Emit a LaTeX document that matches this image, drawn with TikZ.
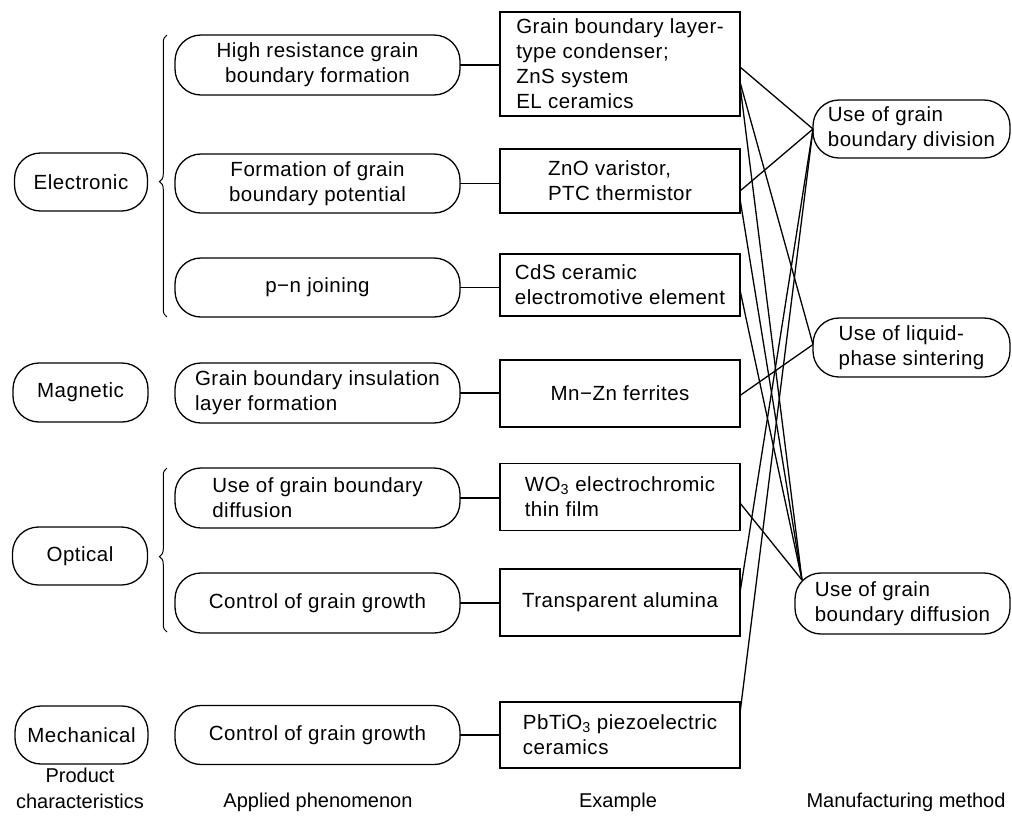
\documentclass[tikz,border=0pt]{standalone}
\usepackage{fontspec}
\setmainfont{Liberation Sans}[LetterSpace=2.5]
\newfontfamily\lblfont{Liberation Sans}
\usetikzlibrary{calc,decorations.pathreplacing}
\begin{document}
\begin{tikzpicture}[x=1pt,y=-1pt,
  every node/.style={inner sep=0pt, outer sep=0pt},
  txt/.style={font=\fontsize{20.5}{25}\selectfont},
  pill/.style={draw, line width=1.3pt, rounded corners=26pt, txt, align=center},
  pillL/.style={pill, align=left},
  exbox/.style={draw, line width=1.3pt, txt, align=left, minimum width=240pt},
  lbl/.style={font=\lblfont\fontsize{20}{26}\selectfont, align=center},
  conn/.style={line width=1.3pt},
  bracestyle/.style={line width=1pt, decorate, decoration={brace, amplitude=7.5pt}},
  ]
\useasboundingbox (0,0) rectangle (1012,815);

% Product characteristics
\node[pill, minimum width=133pt, minimum height=58pt] (pe) at (81,182) {Electronic};
\node[pill, minimum width=135pt, minimum height=59pt] (pm) at (80.5,392.5) {Magnetic};
\node[pill, minimum width=135pt, minimum height=58pt] (po) at (80,556) {Optical};
\node[pill, minimum width=133pt, minimum height=58pt] (pk) at (81.5,735) {Mechanical};

% braces
\draw[bracestyle, decoration={aspect=0.48}] (167,317) -- (167,35);
\draw[bracestyle, decoration={aspect=0.46}] (167,632) -- (167,468);

% Applied phenomenon
\node[pill, minimum width=285pt, minimum height=60pt] (a1) at (317.5,65) {High resistance grain\\boundary formation};
\node[pill, minimum width=285pt, minimum height=59pt] (a2) at (317.5,183.5) {Formation of grain\\boundary potential};
\node[pill, minimum width=285pt, minimum height=59pt] (a3) at (317.5,287.5) {p−n joining};
\node[pillL, minimum width=285pt, minimum height=60pt] (a4) at (317.5,393) {Grain boundary insulation\\layer formation};
\node[pillL, minimum width=285pt, minimum height=60pt] (a5) at (317.5,498) {Use of grain boundary\\diffusion};
\node[pill, minimum width=285pt, minimum height=60pt] (a6) at (317.5,603) {Control of grain growth};
\node[pill, minimum width=285pt, minimum height=59pt] (a7) at (317.5,735) {Control of grain growth};

% Examples
\node[exbox, minimum height=104pt] (e1) at (620,64) {Grain boundary layer-\\type condenser;\\ZnS system\\EL ceramics};
\node[exbox, minimum height=64pt] (e2) at (620,181) {ZnO varistor,\\PTC thermistor};
\node[exbox, minimum height=62pt] (e3) at (620,285) {CdS ceramic\\electromotive element};
\node[exbox, minimum height=67pt, align=center] (e4) at (620,393.5) {Mn−Zn ferrites};
\node[exbox, minimum height=67pt] (e5) at (620,497) {WO\textsubscript{3} electrochromic\\thin film};
\node[exbox, minimum height=67pt, align=center] (e6) at (620,602.5) {Transparent alumina};
\node[exbox, minimum height=66pt] (e7) at (620,735) {PbTiO\textsubscript{3} piezoelectric\\ceramics};

% Manufacturing method
\node[pillL, minimum width=197pt, minimum height=58pt] (m1) at (911.5,129) {Use of grain\\boundary division};
\node[pillL, minimum width=197pt, minimum height=59pt] (m2) at (911.5,347.5) {Use of liquid-\\phase sintering};
\node[pillL, minimum width=215pt, minimum height=61pt] (m3) at (902.5,603.5) {Use of grain\\boundary diffusion};
\coordinate (m3p) at ($(m3.north west)+(7,7)$);
\coordinate (m2p) at ($(m2.west)+(0,-3)$);

% connectors applied -> example
\foreach \i in {1,...,7} {
  \draw[conn] (a\i.east) -- (a\i.east -| e\i.west);
}

% connectors example -> method
\draw[conn] ($(e1.east)+(0,3)$) -- (m1.west);
\draw[conn] ($(e1.east)+(0,18)$) -- (m2p);
\draw[conn] ($(e1.east)+(0,21)$) -- (m3p);
\draw[conn] ($(e2.east)+(0,10)$) -- (m1.west);
\draw[conn] ($(e2.east)+(0,18)$) -- (m3p);
\draw[conn] ($(e3.east)+(0,5)$) -- (m3p);
\draw[conn] ($(e4.east)+(0,2)$) -- (m2p);
\draw[conn] ($(e5.east)+(0,6)$) -- (m3p);
\draw[conn] ($(e6.east)+(0,-10)$) -- (m1.west);
\draw[conn] ($(e7.east)+(0,-22)$) -- (m1.west);

% column labels
\node[lbl] (lp) at (80,788.5) {Product\\characteristics};
\node[lbl] (la) at (318,802) {Applied phenomenon};
\node[lbl] (lx) at (618,802) {Example};
\node[lbl] (lmm) at (906,802) {Manufacturing method};
\end{tikzpicture}
\end{document}
